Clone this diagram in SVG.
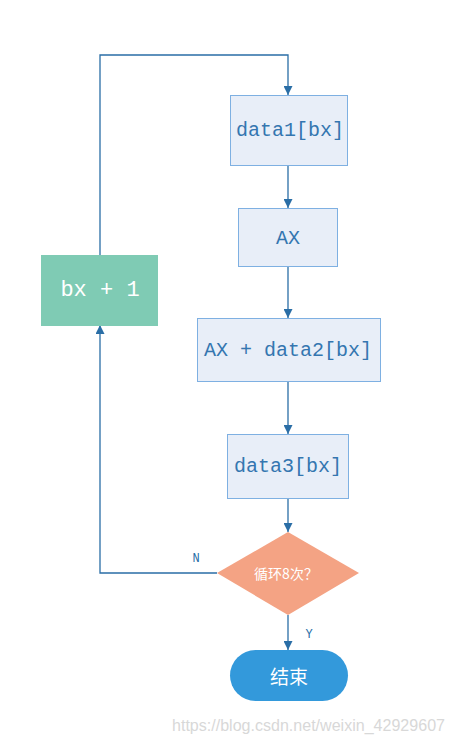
<svg xmlns="http://www.w3.org/2000/svg" width="453" height="745" viewBox="0 0 453 745">
<style>
.box{fill:#e8eef8;stroke:#7eb0e2;stroke-width:1}
.t{font-family:"Liberation Mono","DejaVu Sans Mono",monospace;font-size:20px;fill:#3476b0;text-anchor:middle;dominant-baseline:central}
.w{font-family:"Noto Sans CJK SC",sans-serif;fill:#ffffff;text-anchor:middle;dominant-baseline:central}
.c{fill:none;stroke:#2a6ea6;stroke-width:1.3}
.lb{font-family:"Liberation Mono",monospace;font-size:12px;fill:#2a6ea6;text-anchor:middle}
</style>
<defs>
<marker id="a" viewBox="0 0 10 10" refX="10" refY="5" markerWidth="9" markerHeight="9" markerUnits="userSpaceOnUse" orient="auto">
<path d="M0,0 L10,5 L0,10 z" fill="#2a6ea6"/>
</marker>
</defs>
<rect width="453" height="745" fill="#ffffff"/>
<g id="connectors">
<path class="c" d="M100,255 V55 H288 V95" marker-end="url(#a)"/>
<path class="c" d="M288,165 V208" marker-end="url(#a)"/>
<path class="c" d="M288,266 V318" marker-end="url(#a)"/>
<path class="c" d="M288,381 V434" marker-end="url(#a)"/>
<path class="c" d="M288,498 V532" marker-end="url(#a)"/>
<path class="c" d="M217,573 H100 V325" marker-end="url(#a)"/>
<path class="c" d="M288,615 V650" marker-end="url(#a)"/>
<text class="lb" x="196" y="562">N</text>
<text class="lb" x="309" y="638">Y</text>
</g>
<g id="data1"><rect class="box" x="230.5" y="95.5" width="117" height="70"/><text class="t" x="290" y="130">data1[bx]</text></g>
<g id="ax"><rect class="box" x="238.5" y="208.5" width="99" height="58"/><text class="t" x="288" y="238">AX</text></g>
<g id="axdata2"><rect class="box" x="197.5" y="318.5" width="183" height="63"/><text class="t" x="288" y="350">AX + data2[bx]</text></g>
<g id="data3"><rect class="box" x="227.5" y="434.5" width="121" height="64"/><text class="t" x="288" y="466">data3[bx]</text></g>
<g id="bx1"><rect x="41" y="255" width="117" height="71" fill="#7fcbb4"/><text class="t" x="100" y="290" style="fill:#ffffff;font-size:22px">bx + 1</text></g>
<g id="loop"><polygon points="288,532 359,573 288,615 217,573" fill="#f4a384"/><text class="w" x="286" y="573" font-size="14">循环8次？</text></g>
<g id="end"><rect x="230" y="650" width="118" height="51" rx="25.5" fill="#3399db"/><text class="w" x="289" y="675" font-size="19">结束</text></g>
<text x="172" y="731" font-family="'Liberation Sans',sans-serif" font-size="16" fill="#d8d8d8" textLength="273" lengthAdjust="spacingAndGlyphs">https://blog.csdn.net/weixin_42929607</text>
</svg>
